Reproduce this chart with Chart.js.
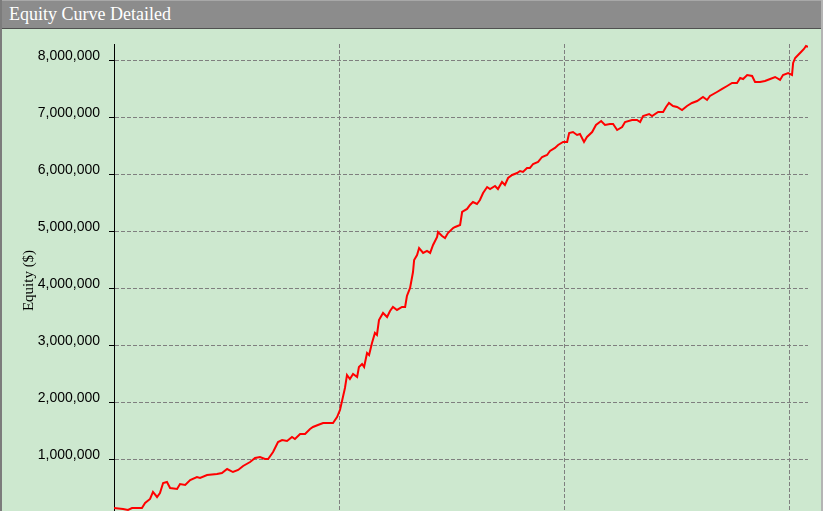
<!DOCTYPE html>
<html>
<head>
<meta charset="utf-8">
<title>Equity Curve Detailed</title>
<script src="https://cdn.jsdelivr.net/npm/chart.js@4.4.0/dist/chart.umd.min.js"></script>
<style>
  html, body { margin: 0; padding: 0; width: 824px; height: 511px; overflow: hidden; background: #ffffff; }
  #panel { position: absolute; left: 0; top: 0; width: 819px; height: 540px; background: #cde8cf;
    border-left: 2px solid #7c7c7c; border-right: 2px solid #b4b4b4; }
  #titlebar { position: absolute; left: 0; top: 0; width: 819px; height: 29px; background: #8c8c8c;
    border-top: 1px solid #a8a8a8; border-bottom: 1px solid #505050;
    font-family: "Liberation Serif", "Times New Roman", serif; font-size: 18px; color: #ffffff;
    line-height: 27px; padding-left: 7px; box-sizing: border-box; }
  #wrap { position: absolute; left: 1px; top: 29px; width: 817px; height: 488px; }
</style>
</head>
<body>
<div id="panel">
  <div id="titlebar">Equity Curve Detailed</div>
  <div id="wrap"><canvas id="equity"></canvas></div>
</div>
<script>
// decimal year of each sample
const years = [
  2010.000, 2010.004, 2010.040, 2010.062, 2010.080, 2010.124, 2010.138, 2010.160, 2010.173, 2010.191,
  2010.204, 2010.218, 2010.235, 2010.249, 2010.280, 2010.293, 2010.316, 2010.338, 2010.368, 2010.382,
  2010.413, 2010.457, 2010.479, 2010.502, 2010.528, 2010.551, 2010.573, 2010.604, 2010.626, 2010.648,
  2010.670, 2010.684, 2010.706, 2010.728, 2010.746, 2010.768, 2010.790, 2010.803, 2010.826, 2010.848,
  2010.870, 2010.883, 2010.905, 2010.928, 2010.950, 2010.972, 2010.990, 2011.003, 2011.016, 2011.025,
  2011.034, 2011.047, 2011.061, 2011.079, 2011.087, 2011.101, 2011.110, 2011.123, 2011.132, 2011.145,
  2011.158, 2011.167, 2011.176, 2011.194, 2011.212, 2011.225, 2011.238, 2011.256, 2011.278, 2011.292,
  2011.300, 2011.314, 2011.327, 2011.332, 2011.345, 2011.354, 2011.372, 2011.389, 2011.403, 2011.416,
  2011.434, 2011.438, 2011.456, 2011.469, 2011.482, 2011.505, 2011.514, 2011.536, 2011.545, 2011.567,
  2011.580, 2011.593, 2011.611, 2011.624, 2011.638, 2011.656, 2011.669, 2011.691, 2011.704, 2011.722,
  2011.735, 2011.749, 2011.767, 2011.789, 2011.802, 2011.815, 2011.833, 2011.846, 2011.860, 2011.882,
  2011.900, 2011.922, 2011.935, 2011.957, 2011.971, 2011.993, 2012.011, 2012.020, 2012.037, 2012.055,
  2012.068, 2012.086, 2012.099, 2012.122, 2012.139, 2012.162, 2012.179, 2012.201, 2012.215, 2012.233,
  2012.255, 2012.268, 2012.299, 2012.321, 2012.335, 2012.348, 2012.375, 2012.388, 2012.415, 2012.437,
  2012.450, 2012.463, 2012.481, 2012.499, 2012.521, 2012.543, 2012.565, 2012.588, 2012.614, 2012.632,
  2012.645, 2012.676, 2012.699, 2012.721, 2012.743, 2012.765, 2012.779, 2012.792, 2012.810, 2012.832,
  2012.845, 2012.867, 2012.889, 2012.912, 2012.934, 2012.956, 2012.969, 2012.992, 2013.009, 2013.014,
  2013.023, 2013.036, 2013.049, 2013.062, 2013.071, 2013.080
];

// account equity in dollars
const equity = [
  158000, 158000, 140000, 123000, 158000, 158000, 246000, 316000, 439000, 351000,
  421000, 596000, 614000, 509000, 491000, 579000, 561000, 649000, 702000, 684000,
  737000, 754000, 772000, 842000, 789000, 825000, 895000, 965000, 1035000, 1053000,
  1018000, 1018000, 1140000, 1316000, 1351000, 1333000, 1404000, 1368000, 1456000, 1456000,
  1544000, 1579000, 1614000, 1649000, 1649000, 1649000, 1754000, 1877000, 2105000, 2263000,
  2491000, 2421000, 2509000, 2456000, 2632000, 2684000, 2632000, 2877000, 2842000, 3053000,
  3228000, 3193000, 3456000, 3579000, 3509000, 3614000, 3684000, 3632000, 3684000, 3684000,
  3877000, 4018000, 4298000, 4509000, 4596000, 4719000, 4632000, 4667000, 4632000, 4772000,
  4912000, 5000000, 4930000, 4895000, 4982000, 5070000, 5088000, 5123000, 5351000, 5404000,
  5474000, 5526000, 5491000, 5561000, 5684000, 5789000, 5754000, 5807000, 5754000, 5877000,
  5825000, 5947000, 6000000, 6035000, 6070000, 6053000, 6123000, 6123000, 6193000, 6228000,
  6316000, 6351000, 6421000, 6474000, 6526000, 6579000, 6579000, 6737000, 6754000, 6702000,
  6719000, 6579000, 6667000, 6754000, 6877000, 6947000, 6877000, 6895000, 6895000, 6789000,
  6842000, 6930000, 6965000, 6965000, 6930000, 7035000, 7070000, 7035000, 7105000, 7105000,
  7193000, 7263000, 7211000, 7193000, 7140000, 7211000, 7263000, 7298000, 7368000, 7316000,
  7386000, 7456000, 7509000, 7561000, 7614000, 7614000, 7702000, 7684000, 7754000, 7737000,
  7632000, 7632000, 7649000, 7684000, 7719000, 7667000, 7754000, 7789000, 7754000, 7965000,
  8053000, 8105000, 8158000, 8211000, 8263000, 8246000
];

const yTicks = [0, 1000000, 2000000, 3000000, 4000000, 5000000, 6000000, 7000000, 8000000];
const xTicks = [2010, 2011, 2012, 2013];

const points = years.map((yr, i) => ({ x: yr, y: equity[i] }));
const gridGray = "#7f7f7f";

new Chart(document.getElementById("equity"), {
  type: "line",
  data: {
    datasets: [{
      label: "Equity",
      data: points,
      borderColor: "#ff0000",
      borderWidth: 2,
      pointRadius: 0,
      tension: 0,
      fill: false
    }]
  },
  options: {
    responsive: true,
    maintainAspectRatio: false,
    animation: false,
    events: [],
    layout: { padding: { top: 15, right: 12, bottom: 0, left: 0 } },
    plugins: { legend: { display: false }, tooltip: { enabled: false } },
    scales: {
      x: {
        type: "linear",
        min: years[0],
        max: years[years.length - 1],
        ticks: { display: false, autoSkip: false },
        grid: { color: gridGray, lineWidth: 1, drawTicks: false },
        border: { display: false, dash: [4, 2] },
        afterBuildTicks: s => { s.ticks = xTicks.map(v => ({ value: v })); },
        afterFit: s => { s.height = 0; s.paddingLeft = 0; s.paddingRight = 0; }
      },
      y: {
        type: "linear",
        min: 0,
        max: 8298000,
        ticks: {
          autoSkip: false,
          color: "#000000",
          font: { family: "'Liberation Sans', Arial, sans-serif", size: 14 },
          padding: 9,
          labelOffset: -5,
          // the zero label sits below the visible panel
          callback: v => (v === 0 ? "" : v.toLocaleString("en-US"))
        },
        grid: { color: gridGray, lineWidth: 1, tickLength: 5, tickColor: "#000000", tickBorderDash: [] },
        border: { display: true, color: "#000000", width: 1, dash: [4, 2] },
        title: {
          display: true,
          text: "Equity ($)",
          color: "#000000",
          font: { family: "'Liberation Serif', 'Times New Roman', serif", size: 15 },
          padding: { top: 17, bottom: 0 }
        },
        afterBuildTicks: s => { s.ticks = yTicks.map(v => ({ value: v })); },
        afterFit: s => { s.width = 111; s.paddingTop = 0; s.paddingBottom = 0; }
      }
    }
  }
});
</script>
</body>
</html>
